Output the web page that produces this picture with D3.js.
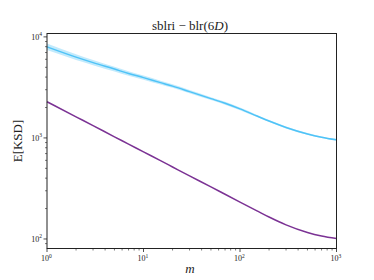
<!DOCTYPE html>
<html>
<head>
<meta charset="utf-8">
<script src="https://cdn.jsdelivr.net/npm/d3@7"></script>
<style>
  body { margin: 0; background: #fff; }
  svg text { font-family: "Liberation Serif", "DejaVu Serif", serif; fill: #222; }
</style>
</head>
<body>
<div id="chart"></div>
<script>
// values
const mValues = [1, 2, 3, 5, 7, 10, 15, 20, 30, 50, 70, 100, 150, 200, 300, 500, 700, 1000];
const blueMean = [7960, 6300, 5560, 4800, 4345, 3950, 3525, 3256, 2873, 2449, 2203, 1938, 1648, 1469, 1270, 1095, 1017, 957];
const blueLow  = [7400, 5900, 5250, 4550, 4130, 3770, 3380, 3130, 2770, 2370, 2135, 1882, 1608, 1436, 1243, 1074, 998, 940];
const blueHigh = [8600, 6750, 5900, 5050, 4560, 4140, 3680, 3390, 2980, 2530, 2275, 1995, 1690, 1502, 1297, 1116, 1036, 975];
const purple   = [2280, 1618, 1324, 1026, 869, 728, 596, 516, 421, 328, 277, 232, 190, 165, 138, 116, 107, 101];
const xTicks = [1, 10, 100, 1000];
const yTicks = [100, 1000, 10000];

const width = 374, height = 280;
const margin = { top: 33.5, right: 37.5, bottom: 31.5, left: 47 };

const svg = d3.select("#chart").append("svg")
  .attr("width", width).attr("height", height);

const x = d3.scaleLog().domain([1, 1000]).range([margin.left, width - margin.right]);
const y = d3.scaleLog().domain([80.5, 10800]).range([height - margin.bottom, margin.top]);

const rows = mValues.map((m, i) => ({ m, mean: blueMean[i], lo: blueLow[i], hi: blueHigh[i], p: purple[i] }));

const g = svg.append("g");
g.append("path")
  .datum(rows)
  .attr("fill", "#4fc3f7")
  .attr("fill-opacity", 0.35)
  .attr("d", d3.area().curve(d3.curveMonotoneX)
    .x(d => x(d.m)).y0(d => y(d.lo)).y1(d => y(d.hi)));

g.append("path")
  .datum(rows)
  .attr("fill", "none")
  .attr("stroke", "#4fc3f7")
  .attr("stroke-width", 1.5)
  .attr("d", d3.line().curve(d3.curveMonotoneX).x(d => x(d.m)).y(d => y(d.mean)));

g.append("path")
  .datum(rows)
  .attr("fill", "none")
  .attr("stroke", "#7b3294")
  .attr("stroke-width", 1.5)
  .attr("d", d3.line().curve(d3.curveMonotoneX).x(d => x(d.m)).y(d => y(d.p)));

// frame
svg.append("rect")
  .attr("x", margin.left).attr("y", margin.top)
  .attr("width", width - margin.left - margin.right)
  .attr("height", height - margin.top - margin.bottom)
  .attr("fill", "none").attr("stroke", "#222").attr("stroke-width", 1);

// minor ticks
const minorX = [];
[1, 10, 100].forEach(b => { for (let k = 2; k < 10; k++) minorX.push(b * k); });
const minorY = [];
[10, 100, 1000].forEach(b => { for (let k = 2; k < 10; k++) { const v = b * k; if (v > 80.5 && v < 10800) minorY.push(v); } });

const xb = height - margin.bottom;
svg.append("g").selectAll("line").data(minorX).join("line")
  .attr("x1", d => x(d)).attr("x2", d => x(d)).attr("y1", xb).attr("y2", xb + 2)
  .attr("stroke", "#222").attr("stroke-width", 0.6);
svg.append("g").selectAll("line").data(xTicks).join("line")
  .attr("x1", d => x(d)).attr("x2", d => x(d)).attr("y1", xb).attr("y2", xb + 3.5)
  .attr("stroke", "#222").attr("stroke-width", 0.8);

svg.append("g").selectAll("line").data(minorY).join("line")
  .attr("x1", margin.left - 2).attr("x2", margin.left).attr("y1", d => y(d)).attr("y2", d => y(d))
  .attr("stroke", "#222").attr("stroke-width", 0.6);
svg.append("g").selectAll("line").data(yTicks).join("line")
  .attr("x1", margin.left - 3.5).attr("x2", margin.left).attr("y1", d => y(d)).attr("y2", d => y(d))
  .attr("stroke", "#222").attr("stroke-width", 0.8);

// tick labels with superscripts
function powLabel(sel, v) {
  sel.append("tspan").text("10");
  sel.append("tspan").attr("font-size", 5.5).attr("dy", -3.5).text(Math.round(Math.log10(v)));
}
xTicks.forEach(v => {
  const t = svg.append("text").attr("x", x(v) - 6).attr("y", xb + 12.5).attr("font-size", 8);
  powLabel(t, v);
});
yTicks.forEach(v => {
  const t = svg.append("text").attr("x", margin.left - 5).attr("y", y(v) + 3)
    .attr("font-size", 8).attr("text-anchor", "end");
  powLabel(t, v);
});

// title and axis labels
const title = svg.append("text").attr("x", 190).attr("y", 29.5).attr("font-size", 13).attr("text-anchor", "middle");
title.append("tspan").text("sblri − blr(6");
title.append("tspan").attr("font-style", "italic").text("D");
title.append("tspan").text(")");

svg.append("text").attr("x", 190).attr("y", 273).attr("font-size", 13)
  .attr("font-style", "italic").attr("text-anchor", "middle").text("m");

svg.append("text").attr("transform", "translate(22,141) rotate(-90)")
  .attr("font-size", 13).attr("text-anchor", "middle").text("E[KSD]");
</script>
</body>
</html>
